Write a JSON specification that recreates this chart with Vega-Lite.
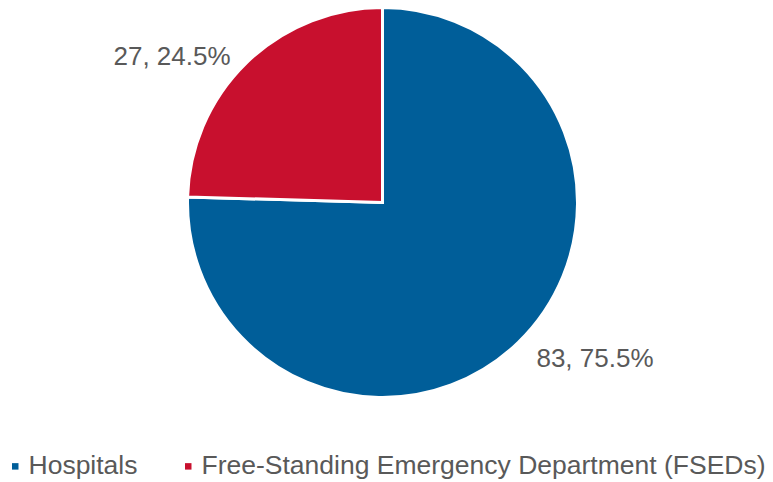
{
  "$schema": "https://vega.github.io/schema/vega-lite/v6.json",
  "width": 765,
  "height": 405,
  "padding": 0,
  "autosize": {"type": "pad"},
  "background": "white",
  "config": {"view": {"stroke": null}, "font": "Liberation Sans"},
  "data": {
    "values": [
      {"category": "Hospitals", "value": 83, "label": "83, 75.5%", "ord": 1},
      {"category": "Free-Standing Emergency Department (FSEDs)", "value": 27, "label": "27, 24.5%", "ord": 2}
    ]
  },
  "encoding": {
    "theta": {"field": "value", "type": "quantitative", "stack": true},
    "order": {"field": "ord", "type": "quantitative"}
  },
  "layer": [
    {
      "mark": {"type": "arc", "outerRadius": 195, "stroke": "white", "strokeWidth": 3},
      "encoding": {
        "color": {
          "field": "category",
          "type": "nominal",
          "sort": ["Hospitals", "Free-Standing Emergency Department (FSEDs)"],
          "scale": {"domain": ["Hospitals", "Free-Standing Emergency Department (FSEDs)"], "range": ["#005e99", "#c8102e"]},
          "legend": {
            "title": null,
            "orient": "none",
            "direction": "horizontal",
            "legendX": 2,
            "legendY": 453,
            "padding": 0,
            "symbolType": "square",
            "symbolSize": 42,
            "symbolStrokeWidth": 0,
            "labelFont": "Liberation Sans",
            "labelFontSize": 26.5,
            "labelColor": "#595959",
            "labelOffset": 0,
            "columnPadding": 37,
            "labelLimit": 800
          }
        }
      }
    },
    {
      "mark": {
        "type": "text",
        "radius": 218,
        "align": {"expr": "datum.ord == 1 ? 'left' : 'right'"},
        "dx": {"expr": "datum.ord == 1 ? 2 : 0"},
        "dy": {"expr": "datum.ord == 1 ? 0 : 11"},
        "baseline": "middle",
        "fontSize": 26,
        "font": "Liberation Sans",
        "color": "#595959"
      },
      "encoding": {"text": {"field": "label"}}
    }
  ]
}
